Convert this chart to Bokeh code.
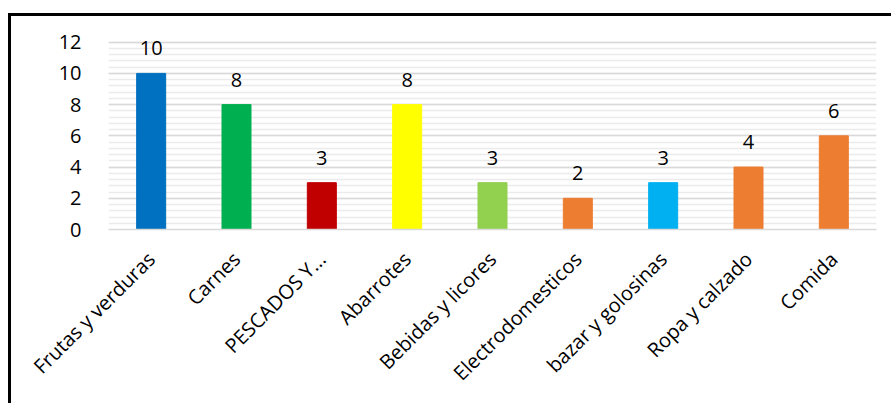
from bokeh.plotting import figure
from bokeh.models import FixedTicker, ColumnDataSource, Range1d, FactorRange
from bokeh.layouts import column
from bokeh.embed import file_html
from bokeh.resources import INLINE
from bokeh.core.properties import value
import math

categories = ["Frutas y verduras", "Carnes", "PESCADOS Y...", "Abarrotes", "Bebidas y licores",
              "Electrodomesticos", "bazar y golosinas", "Ropa y calzado", "Comida"]
counts = [10, 8, 3, 8, 3, 2, 3, 4, 6]
colors = ["#0070C0", "#00B050", "#C00000", "#FFFF00", "#92D050",
          "#ED7D31", "#00B0F0", "#ED7D31", "#ED7D31"]
y_ticks = [0, 2, 4, 6, 8, 10, 12]
y_minor = [i * 0.4 for i in range(31)]

src = ColumnDataSource(dict(cat=categories, val=counts, col=colors, lbl=[str(v) for v in counts]))

FONT = "Open Sans"

p = figure(x_range=FactorRange(*categories, range_padding=0), y_range=Range1d(0, 12.3),
           width=880, height=387, frame_width=768, frame_height=192,
           min_border_left=97, min_border_right=15, min_border_top=21, min_border_bottom=174,
           output_backend="svg", toolbar_location=None)
p.outline_line_color = None
p.background_fill_color = "white"

p.vbar(x="cat", top="val", width=0.34, fill_color="col", line_color="col", source=src)
p.text(x="cat", y="val", text="lbl", source=src, text_align="center", text_baseline="middle",
       y_offset=-25, text_font=value(FONT), text_font_size="20px", text_color="#000000")

p.yaxis.ticker = FixedTicker(ticks=y_ticks, minor_ticks=y_minor)
p.yaxis.axis_line_color = None
p.yaxis.major_tick_line_color = None
p.yaxis.minor_tick_line_color = None
p.yaxis.major_label_standoff = 21
p.yaxis.major_label_text_font = FONT
p.yaxis.major_label_text_font_size = "20px"
p.yaxis.major_label_text_color = "#000000"

p.xaxis.axis_line_color = "#D9D9D9"
p.xaxis.axis_line_width = 1.5
p.xaxis.major_tick_line_color = None
p.xaxis.minor_tick_line_color = None
p.xaxis.major_label_orientation = math.pi / 4
p.xaxis.major_label_standoff = 20
p.xaxis.major_label_text_font = FONT
p.xaxis.major_label_text_font_size = "20px"
p.xaxis.major_label_text_color = "#000000"

p.xgrid.grid_line_color = None
p.ygrid.grid_line_color = "#D9D9D9"
p.ygrid.grid_line_width = 1.5
p.ygrid.minor_grid_line_color = "#EBEBEB"
p.ygrid.minor_grid_line_width = 1.5

layout = column(p, margin=(13, 0, 0, 8),
                styles={"border-top": "3px solid #000000", "border-left": "3px solid #000000"})

open("out.html", "w").write(file_html(layout, INLINE))
